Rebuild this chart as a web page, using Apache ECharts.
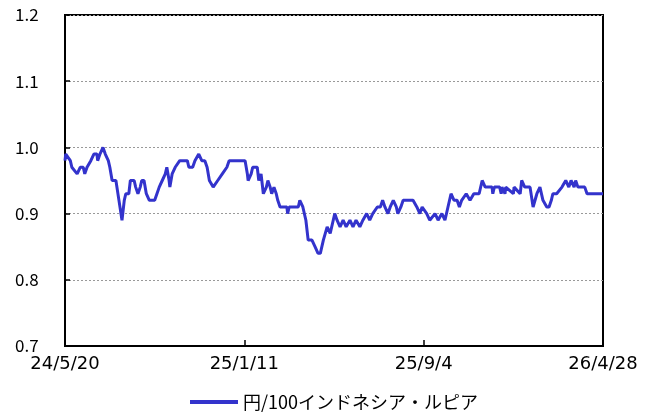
<!DOCTYPE html>
<html><head><meta charset="utf-8">
<script src="https://cdn.jsdelivr.net/npm/echarts@6/dist/echarts.min.js"></script>
<style>html,body{margin:0;padding:0;background:#fff}#c{width:654px;height:416px}</style>
</head><body><div id="c"></div>
<script>
const seriesName = '円/100インドネシア・ルピア';
const dates = [
'2024-05-20','2024-05-21','2024-05-27','2024-05-29','2024-06-05','2024-06-09','2024-06-13','2024-06-15','2024-06-18','2024-06-23',
'2024-06-27','2024-07-01','2024-07-02','2024-07-05','2024-07-09','2024-07-12','2024-07-16','2024-07-18','2024-07-21','2024-07-26',
'2024-07-30','2024-08-03','2024-08-06','2024-08-08','2024-08-12','2024-08-14','2024-08-19','2024-08-21','2024-08-24','2024-08-27',
'2024-08-29','2024-09-01','2024-09-04','2024-09-08','2024-09-15','2024-09-18','2024-09-21','2024-09-25','2024-09-29','2024-10-01',
'2024-10-04','2024-10-05','2024-10-08','2024-10-12','2024-10-18','2024-10-28','2024-10-30','2024-11-04','2024-11-07','2024-11-12',
'2024-11-16','2024-11-20','2024-11-23','2024-11-26','2024-12-01','2024-12-03','2024-12-07','2024-12-13','2024-12-19','2024-12-22',
'2025-01-12','2025-01-15','2025-01-16','2025-01-20','2025-01-22','2025-01-28','2025-01-30','2025-02-02','2025-02-05','2025-02-09',
'2025-02-11','2025-02-14','2025-02-16','2025-02-19','2025-02-22','2025-02-24','2025-02-27','2025-03-08','2025-03-09','2025-03-11',
'2025-03-23','2025-03-25','2025-03-29','2025-04-02','2025-04-05','2025-04-10','2025-04-14','2025-04-18','2025-04-21','2025-04-25',
'2025-04-30','2025-05-04','2025-05-08','2025-05-10','2025-05-13','2025-05-17','2025-05-21','2025-05-25','2025-05-30','2025-06-03',
'2025-06-07','2025-06-12','2025-06-16','2025-06-21','2025-06-25','2025-06-29','2025-07-05','2025-07-09','2025-07-12','2025-07-15',
'2025-07-19','2025-07-22','2025-07-26','2025-07-30','2025-08-01','2025-08-05','2025-08-08','2025-08-21','2025-08-26','2025-08-30',
'2025-09-02','2025-09-08','2025-09-12','2025-09-19','2025-09-23','2025-09-28','2025-10-02','2025-10-06','2025-10-10','2025-10-14',
'2025-10-18','2025-10-21','2025-10-24','2025-10-30','2025-11-04','2025-11-09','2025-11-16','2025-11-20','2025-11-24','2025-12-03',
'2025-12-04','2025-12-06','2025-12-13','2025-12-15','2025-12-16','2025-12-20','2025-12-21','2025-12-31','2026-01-01','2026-01-09',
'2026-01-11','2026-01-15','2026-01-22','2026-01-26','2026-01-31','2026-02-04','2026-02-08','2026-02-13','2026-02-16','2026-02-19',
'2026-02-21','2026-02-26','2026-03-05','2026-03-10','2026-03-14','2026-03-17','2026-03-21','2026-03-23','2026-03-26','2026-04-04',
'2026-04-07','2026-04-28'
];
const values = [
0.98,0.99,0.98,0.97,0.96,0.97,0.97,0.96,0.97,0.98,
0.99,0.99,0.98,0.99,1.00,0.99,0.98,0.97,0.95,0.95,
0.92,0.89,0.92,0.93,0.93,0.95,0.95,0.94,0.93,0.94,
0.95,0.95,0.93,0.92,0.92,0.93,0.94,0.95,0.96,0.97,
0.95,0.94,0.96,0.97,0.98,0.98,0.97,0.97,0.98,0.99,
0.98,0.98,0.97,0.95,0.94,0.94,0.95,0.96,0.97,0.98,
0.98,0.96,0.95,0.96,0.97,0.97,0.95,0.96,0.93,0.94,
0.95,0.94,0.93,0.94,0.93,0.92,0.91,0.91,0.90,0.91,
0.91,0.92,0.91,0.89,0.86,0.86,0.85,0.84,0.84,0.86,
0.88,0.87,0.89,0.90,0.89,0.88,0.89,0.88,0.89,0.88,
0.89,0.88,0.89,0.90,0.89,0.90,0.91,0.91,0.92,0.91,
0.90,0.91,0.92,0.91,0.90,0.91,0.92,0.92,0.91,0.90,
0.91,0.90,0.89,0.90,0.89,0.90,0.89,0.91,0.93,0.92,
0.92,0.91,0.92,0.93,0.92,0.93,0.93,0.95,0.94,0.94,
0.93,0.94,0.94,0.93,0.94,0.93,0.94,0.93,0.94,0.93,
0.95,0.94,0.94,0.91,0.93,0.94,0.92,0.91,0.91,0.92,
0.93,0.93,0.94,0.95,0.94,0.95,0.94,0.95,0.94,0.94,
0.93,0.93
];
const xTickDates = ['2024-05-20','2025-01-11','2025-09-04','2026-04-28'];
const yMin = 0.7, yMax = 1.2, yStep = 0.1;

const DAY = 86400000;
const t0 = Date.parse(xTickDates[0] + 'T00:00:00Z');
const toDay = s => Math.round((Date.parse(s + 'T00:00:00Z') - t0) / DAY);
const xMax = toDay(xTickDates[xTickDates.length - 1]);
const xStep = toDay(xTickDates[1]);
const fmtDay = d => {
  const dt = new Date(t0 + d * DAY);
  return String(dt.getUTCFullYear() % 100) + '/' + (dt.getUTCMonth() + 1) + '/' + dt.getUTCDate();
};
const data = dates.map((d, i) => [toDay(d), values[i]]);
const FONT = '"Noto Sans CJK JP", "Noto Sans", sans-serif';
const XFONT = '"DejaVu Sans", sans-serif';

const chart = echarts.init(document.getElementById('c'), null, {renderer: 'canvas'});
chart.setOption({
  animation: false,
  backgroundColor: '#fff',
  grid: {left: 65, right: 51, top: 15, bottom: 70, show: true, borderColor: '#000', borderWidth: 2, backgroundColor: 'transparent'},
  legend: {
    bottom: 0, left: 185, itemWidth: 48, itemHeight: 4, icon: 'rect', itemGap: 6,
    textStyle: {fontFamily: FONT, fontSize: 18, color: '#000'},
    data: [{name: seriesName}]
  },
  xAxis: {
    type: 'value', min: 0, max: xMax, interval: xStep,
    axisLine: {lineStyle: {color: '#000', width: 2}},
    axisTick: {inside: true, length: 6, lineStyle: {color: '#000', width: 1.5}},
    splitLine: {show: false},
    axisLabel: {formatter: v => fmtDay(v), margin: 9, fontFamily: XFONT, fontSize: 18, color: '#000'}
  },
  yAxis: {
    type: 'value', min: yMin, max: yMax, interval: yStep,
    axisLine: {show: true, lineStyle: {color: '#000', width: 2}},
    axisTick: {show: true, inside: true, length: 5, lineStyle: {color: '#000', width: 1.5}},
    splitLine: {show: true, lineStyle: {color: '#999', type: [2, 2], width: 1}},
    axisLabel: {formatter: v => v.toFixed(1), margin: 50, align: 'left', fontFamily: FONT, fontSize: 17, color: '#000'}
  },
  series: [{
    name: seriesName, type: 'line', data: data, showSymbol: false, symbol: 'none',
    lineStyle: {color: '#3333cc', width: 3}, itemStyle: {color: '#3333cc'}
  }]
});
</script></body></html>
